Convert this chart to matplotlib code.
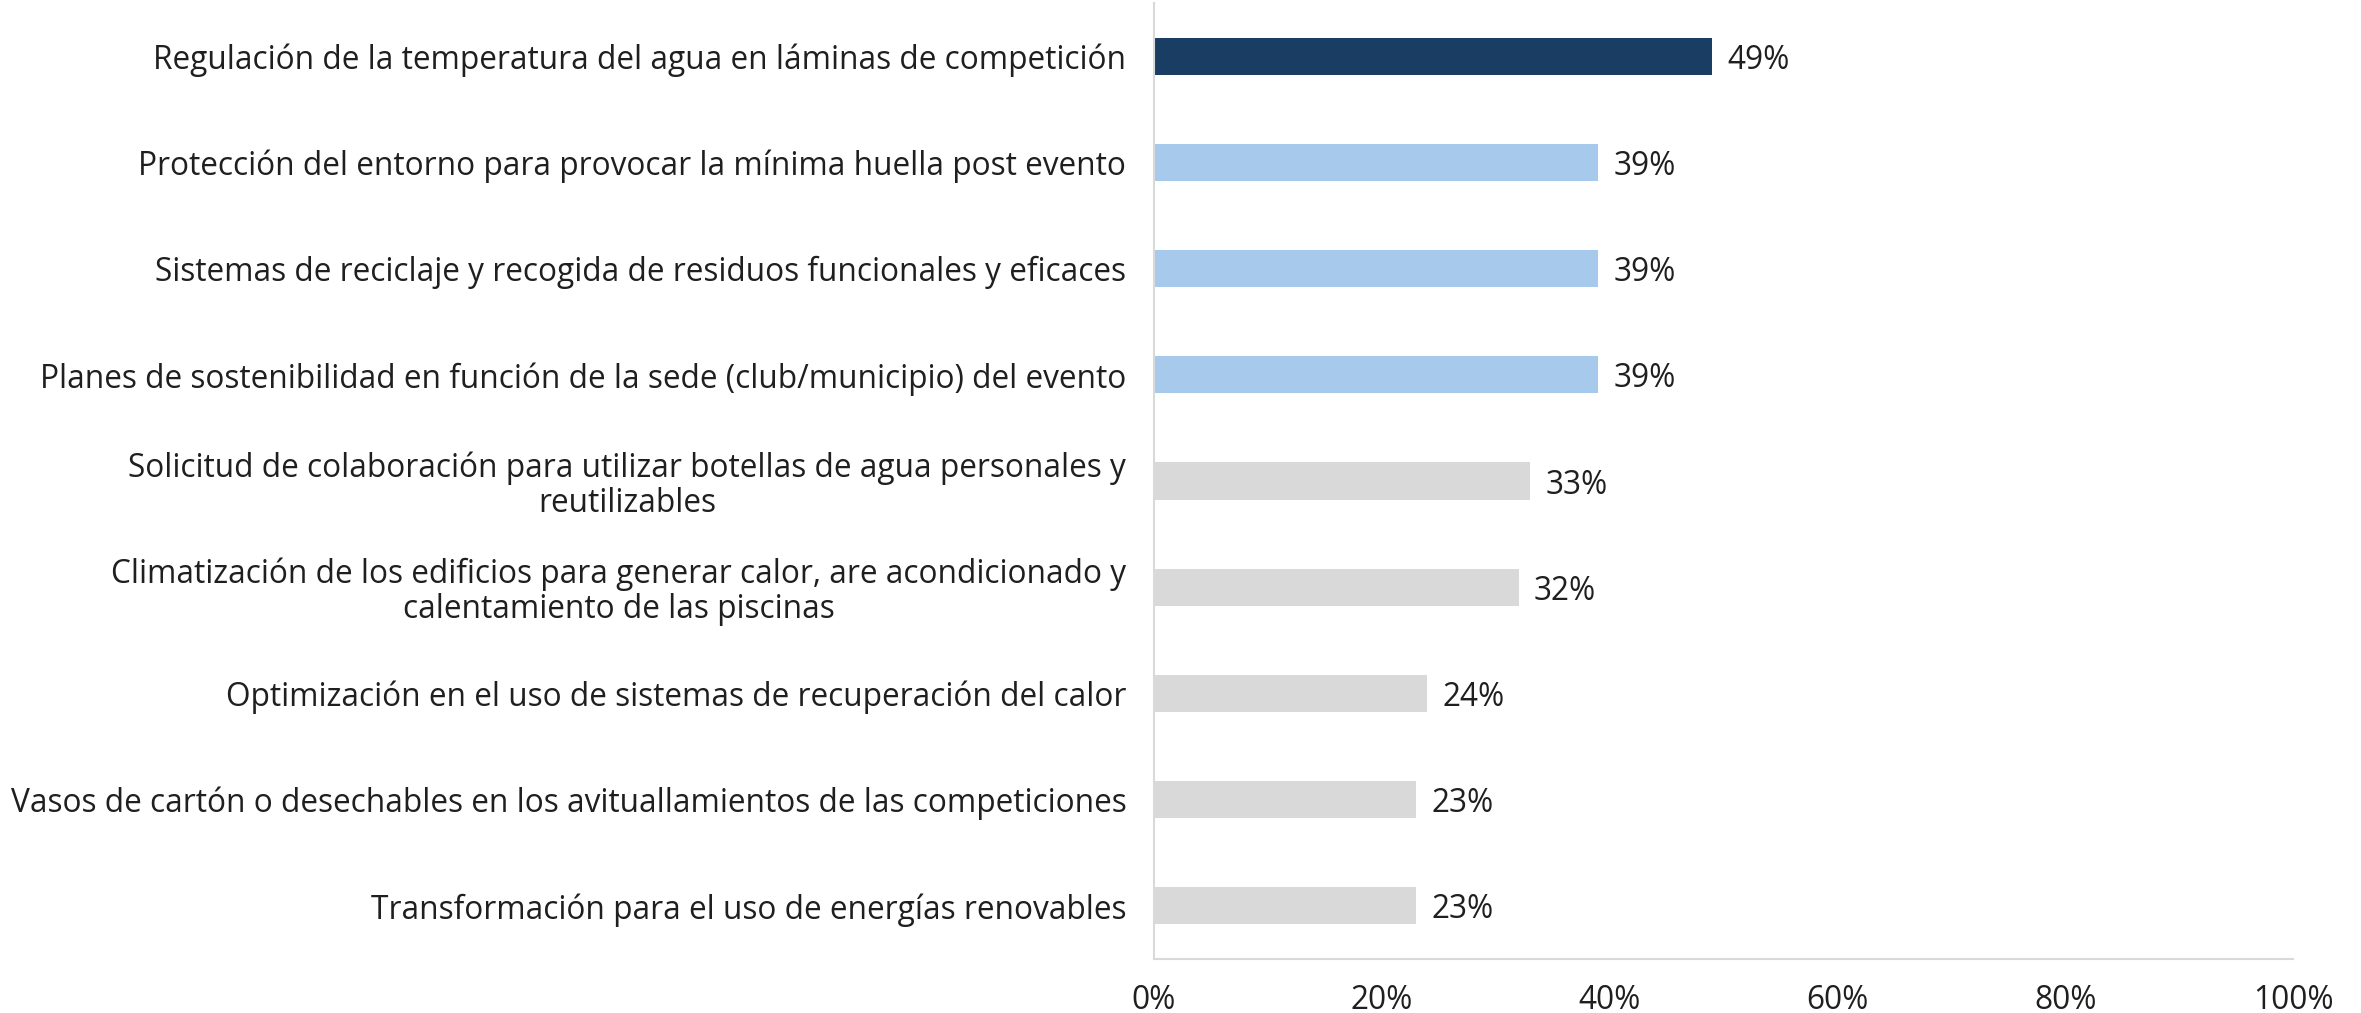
import matplotlib.pyplot as plt
from matplotlib.ticker import PercentFormatter

labels = [
    "Regulación de la temperatura del agua en láminas de competición",
    "Protección del entorno para provocar la mínima huella post evento",
    "Sistemas de reciclaje y recogida de residuos funcionales y eficaces",
    "Planes de sostenibilidad en función de la sede (club/municipio) del evento",
    "Solicitud de colaboración para utilizar botellas de agua personales y\nreutilizables",
    "Climatización de los edificios para generar calor, are acondicionado y\ncalentamiento de las piscinas",
    "Optimización en el uso de sistemas de recuperación del calor",
    "Vasos de cartón o desechables en los avituallamientos de las competiciones",
    "Transformación para el uso de energías renovables",
]
values = [49, 39, 39, 39, 33, 32, 24, 23, 23]
colors = ["#1a3d63"] + ["#a7caec"] * 3 + ["#d9d9d9"] * 5

plt.rcParams['font.family'] = ['Open Sans', 'DejaVu Sans']
text_color = "#1f1f1f"
fs = 22.8

fig = plt.figure(figsize=(23.61, 10.13), dpi=100)
ax = fig.add_axes([0.4888, 0.0533, 0.4824, 0.9437])

pos = list(range(len(values)))
ax.barh(pos, values, height=0.35, color=colors)
ax.set_ylim(len(values) - 0.5, -0.5)
ax.set_xlim(0, 100)
ax.xaxis.set_major_formatter(PercentFormatter(decimals=0))
ax.set_xticks([0, 20, 40, 60, 80, 100])

ax.set_yticks(pos)
ax.set_yticklabels(labels, fontsize=fs, color=text_color, multialignment="center",
                   linespacing=1.08)
ax.tick_params(axis="y", length=0, pad=20)
ax.tick_params(axis="x", length=0, pad=18, labelsize=fs, labelcolor=text_color)

for p, v in zip(pos, values):
    ax.annotate(f"{v}%", (v, p), xytext=(11, 0), textcoords="offset points",
                va="center_baseline", ha="left", fontsize=fs, color=text_color)

for s in ["top", "right"]:
    ax.spines[s].set_visible(False)
for s in ["left", "bottom"]:
    ax.spines[s].set_color("#d9d9d9")
    ax.spines[s].set_linewidth(1.5)

fig.savefig("out.png", dpi=100)
